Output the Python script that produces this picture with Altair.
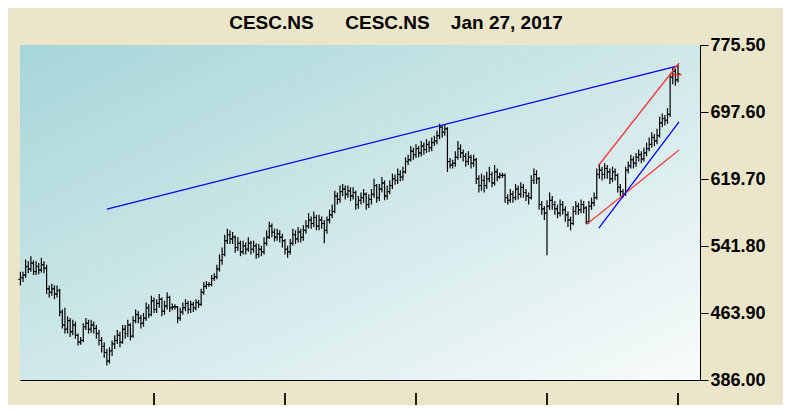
import altair as alt
import pandas as pd

# ---------------- data ----------------
title_text = "CESC.NS\u00a0\u00a0\u00a0\u00a0\u00a0\u00a0CESC.NS\u00a0\u00a0\u00a0\u00a0Jan 27, 2017"
y_ticks = [386.00, 463.90, 541.80, 619.70, 697.60, 775.50]
x_tick_bars = [51, 101, 151, 201, 251]

first_open = 503
closes = [
    505, 508, 518, 515, 522, 512, 518, 514, 520, 516,
    492, 488, 492, 486, 490, 465, 450, 445, 455, 442,
    450, 438, 430, 432, 448, 452, 445, 450, 446, 440,
    432, 425, 418, 408, 420, 428, 432, 438, 430, 445,
    440, 450, 437, 455, 462, 458, 452, 458, 470, 462,
    478, 468, 475, 480, 466, 472, 482, 470, 471, 471,
    458, 465, 470, 475, 468, 474, 470, 476, 474, 488,
    495, 497, 497, 504, 506, 515, 525, 532, 548, 555,
    550, 552, 540, 545, 535, 542, 538, 545, 538, 542,
    532, 538, 535, 545, 552, 565, 558, 552, 556, 552,
    548, 538, 535, 545, 555, 550, 558, 552, 560, 565,
    572, 568, 575, 565, 572, 568, 560, 572, 578, 582,
    600, 596, 605, 608, 602, 606, 600, 604, 590, 595,
    598, 602, 590, 596, 602, 612, 598, 608, 615, 600,
    605, 612, 620, 618, 625, 622, 628, 640, 642, 652,
    648, 655, 650, 658, 654, 660, 656, 662, 664, 670,
    680, 674, 678, 640, 636, 638, 645, 655, 650, 646,
    640, 645, 638, 642, 620, 612, 618, 612, 620, 625,
    615, 628, 622, 624, 624, 598, 595, 602, 598, 608,
    602, 610, 604, 600, 598, 618, 625, 620, 590, 585,
    580, 588, 595, 590, 585, 580, 590, 584, 578, 572,
    568, 582, 588, 584, 590, 586, 570, 588, 592, 598,
    625, 630, 625, 632, 628, 620, 628, 624, 610, 605,
    602, 630, 635, 642, 638, 645, 648, 643, 650, 655,
    660, 668, 664, 670, 685, 690, 688, 695, 738, 745,
    735, 742,
]
highs = [
    512, 512, 526, 524, 530, 525, 524, 522, 528, 524,
    520, 496, 498, 496, 496, 492, 468, 470, 460, 458,
    456, 454, 440, 436, 452, 458, 456, 456, 454, 450,
    444, 436, 430, 422, 424, 432, 438, 444, 442, 450,
    450, 456, 452, 460, 468, 466, 462, 464, 476, 474,
    484, 482, 480, 486, 482, 478, 488, 484, 475, 474,
    472, 470, 476, 480, 478, 478, 477, 480, 479, 492,
    500, 501, 500, 508, 510, 520, 532, 540, 555, 562,
    560, 558, 554, 552, 548, 548, 546, 552, 548, 548,
    545, 544, 542, 552, 560, 570, 568, 562, 562, 560,
    556, 550, 542, 550, 562, 560, 564, 562, 566, 572,
    580, 576, 582, 578, 578, 576, 572, 576, 584, 590,
    606, 604, 612, 614, 612, 612, 610, 610, 606, 600,
    604, 608, 604, 602, 608, 620, 614, 614, 622, 618,
    612, 618, 626, 625, 632, 630, 634, 645, 648, 658,
    656, 660, 658, 664, 662, 666, 664, 668, 670, 676,
    684, 682, 683, 680, 644, 642, 652, 664, 660, 654,
    650, 652, 648, 648, 644, 624, 626, 624, 628, 634,
    628, 636, 632, 627, 627, 626, 602, 608, 606, 614,
    612, 616, 614, 608, 604, 624, 632, 630, 622, 594,
    588, 595, 604, 600, 594, 590, 596, 594, 588, 582,
    576, 588, 594, 592, 596, 594, 588, 594, 598, 604,
    632, 638, 634, 638, 636, 632, 634, 632, 626, 614,
    608, 634, 640, 648, 646, 650, 654, 652, 656, 662,
    668, 674, 672, 678, 692, 696, 694, 702, 742, 750,
    748, 753,
]
lows = [
    496, 500, 505, 510, 512, 508, 508, 509, 511, 510,
    486, 482, 484, 480, 482, 460, 446, 440, 440, 436,
    438, 434, 426, 427, 430, 444, 440, 441, 440, 434,
    426, 418, 412, 403, 405, 414, 422, 428, 424, 428,
    434, 436, 432, 435, 452, 452, 446, 448, 455, 458,
    460, 464, 464, 470, 460, 462, 468, 465, 467, 468,
    452, 455, 462, 466, 463, 464, 465, 467, 470, 472,
    485, 492, 494, 495, 501, 503, 512, 520, 530, 544,
    544, 544, 534, 536, 530, 532, 532, 535, 532, 534,
    527, 528, 530, 532, 542, 550, 552, 547, 548, 546,
    540, 532, 528, 532, 542, 544, 546, 546, 548, 556,
    562, 562, 564, 560, 560, 562, 545, 556, 568, 574,
    580, 590, 592, 600, 596, 598, 594, 596, 584, 585,
    590, 592, 584, 586, 590, 598, 592, 594, 604, 595,
    596, 602, 608, 613, 614, 617, 618, 626, 636, 640,
    642, 644, 645, 646, 648, 650, 651, 652, 658, 660,
    666, 668, 670, 628, 632, 632, 634, 642, 644, 640,
    634, 636, 632, 634, 614, 604, 606, 604, 608, 616,
    610, 612, 617, 620, 621, 592, 590, 592, 592, 595,
    596, 598, 598, 594, 590, 596, 614, 614, 584, 578,
    572, 531, 584, 584, 578, 574, 576, 578, 570, 564,
    560, 566, 578, 578, 580, 580, 567, 568, 584, 588,
    596, 620, 618, 620, 620, 614, 616, 618, 604, 600,
    598, 600, 626, 632, 632, 634, 640, 638, 640, 646,
    652, 656, 658, 660, 668, 680, 682, 684, 692, 730,
    728, 732,
]

trend_x1 = [33, 220.5, 216.3, 220.8]
trend_y1 = [584.8, 634.8, 567.4, 562.7]
trend_x2 = [251, 251.4, 251.4, 251.4]
trend_y2 = [751.1, 754.6, 653.4, 686.0]
trend_colors = ["#0000ff", "#ff3b3b", "#ff3b3b", "#0000ff"]

last_marker = {"x1": 248.5, "x2": 252.3, "y": 741}

# ---------------- frames ----------------
n = len(closes)
opens = [first_open] + closes[:-1]
bars = pd.DataFrame({
    "i": list(range(n)),
    "open": opens, "high": highs, "low": lows, "close": closes,
})
bars["xo"] = bars["i"] - 0.8
bars["xc"] = bars["i"] + 0.8

trends = pd.DataFrame({"x1": trend_x1, "y1": trend_y1, "x2": trend_x2,
                       "y2": trend_y2, "c": trend_colors})
marker = pd.DataFrame([last_marker])
xt = pd.DataFrame({"b": x_tick_bars})

W, H = 680, 335
xs = alt.Scale(domain=[-0.15, 259.4], nice=False, zero=False)
ys = alt.Scale(domain=[386, 775.5], nice=False, zero=False)

grad = alt.LinearGradient(
    gradient="linear",
    stops=[alt.GradientStop(color="#a6d6d9", offset=0),
           alt.GradientStop(color="#d0e8e9", offset=0.5),
           alt.GradientStop(color="#f8fbfb", offset=1)],
    x1=0, y1=0, x2=1, y2=1,
)

y_axis = alt.Axis(orient="right", values=y_ticks, format=".2f", title=None,
                  labelFont="Liberation Sans", labelFontWeight="bold",
                  labelFontSize=18, labelColor="black", domainColor="black",
                  tickColor="black", tickSize=8, labelPadding=2, grid=False,
                  labelBaseline="middle")
x_axis = alt.Axis(orient="bottom", labels=False, ticks=False, grid=False,
                  title=None, domainColor="black", domainWidth=1.2)


def X(field):
    return alt.X(field, type="quantitative", scale=xs, axis=x_axis)


def Y(field):
    return alt.Y(field, type="quantitative", scale=ys, axis=y_axis)


bg = alt.Chart(alt.Data(values=[{"a": 1}])).mark_rect(fill=grad, stroke=None).encode(
    x=alt.value(0), x2=alt.value(W), y=alt.value(0), y2=alt.value(H)
)
hl = alt.Chart(bars).mark_rule(color="black", strokeWidth=1.2).encode(
    x=X("i"), y=Y("low"), y2="high:Q",
)
op = alt.Chart(bars).mark_rule(color="black", strokeWidth=1.0).encode(
    x=X("xo"), x2="i:Q", y=Y("open"),
)
cl = alt.Chart(bars).mark_rule(color="black", strokeWidth=1.0).encode(
    x=X("i"), x2="xc:Q", y=Y("close"),
)
tr = alt.Chart(trends).mark_rule(strokeWidth=1.3).encode(
    x=X("x1"), x2="x2:Q", y=Y("y1"), y2="y2:Q",
    color=alt.Color("c:N", scale=None),
)
mk = alt.Chart(marker).mark_rule(color="#ff2020", strokeWidth=1.5).encode(
    x=X("x1"), x2="x2:Q", y=Y("y"),
)
xticks = alt.Chart(xt).mark_rule(color="#2a1c0c", strokeWidth=2).encode(
    x=X("b"), y=alt.value(H + 13), y2=alt.value(H + 25),
)

chart = alt.layer(bg, hl, op, cl, tr, mk, xticks).properties(
    width=W, height=H,
    title=alt.TitleParams(text=title_text, anchor="middle", dx=36, offset=3,
                          font="Liberation Sans", fontSize=19,
                          fontWeight="bold", color="black"),
    padding={"left": 12, "top": 37, "right": 83, "bottom": 25},
    autosize=alt.AutoSizeParams(type="none"),
).configure(background="#ebe6c9").configure_view(strokeWidth=0)

chart.save("out.html", embed_options={"renderer": "svg", "actions": False})
